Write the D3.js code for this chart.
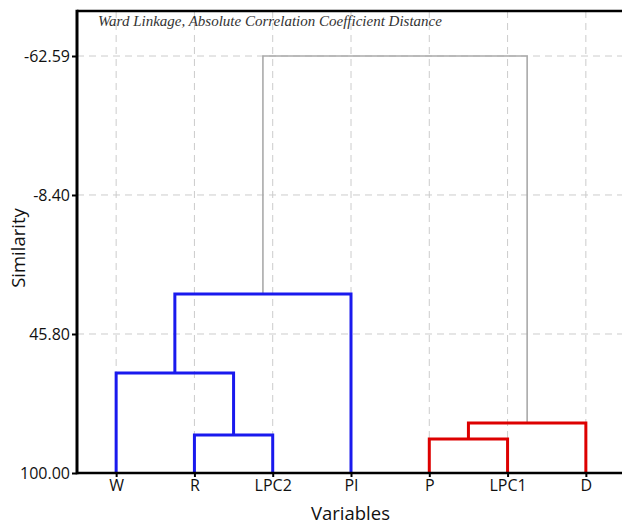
<!DOCTYPE html>
<html>
<head>
<meta charset="utf-8">
<script src="https://cdn.jsdelivr.net/npm/d3@7"></script>
<style>
  html, body { margin: 0; padding: 0; background: #fff; }
  svg { display: block; }
</style>
</head>
<body>
<svg id="chart" width="622" height="525"></svg>
<script>
// Leaves of the dendrogram, in display order
const leaves = ["W", "R", "LPC2", "PI", "P", "LPC1", "D"];

// Linkage steps: leaf indices 0..6, new clusters numbered 7, 8, ...
const mergeLeft   = [4, 1, 7, 0, 10, 11];
const mergeRight  = [5, 2, 6, 8, 3, 9];
const mergeHeight = [86.74, 85.18, 80.50, 61.01, 30.21, -62.59];
const mergeColor  = ["#dd0000", "#1a1aee", "#dd0000", "#1a1aee", "#1a1aee", "#aaaaaa"];

// Similarity axis ticks
const yTicks = [-62.59, -8.40, 45.80, 100.00];

const title = "Ward Linkage, Absolute Correlation Coefficient Distance";

const svg = d3.select("#chart");
const plotLeft = 77, plotTop = 11, plotBottom = 473, plotRight = 625;

const x = d3.scalePoint().domain(leaves).range([plotLeft, plotRight]).padding(0.5);
const y = d3.scaleLinear().domain([100, -62.59]).range([plotBottom, 56]);

// Grid
const grid = svg.append("g").attr("stroke", "#cccccc").attr("stroke-width", 1)
  .attr("stroke-dasharray", "7,5").attr("fill", "none");
leaves.forEach(l => {
  grid.append("line").attr("x1", x(l)).attr("x2", x(l)).attr("y1", plotTop).attr("y2", plotBottom);
});
yTicks.slice(0, 3).forEach(v => {
  grid.append("line").attr("x1", plotLeft).attr("x2", plotRight).attr("y1", y(v)).attr("y2", y(v));
});

// Title
svg.append("text")
  .attr("x", 98).attr("y", 26)
  .attr("font-family", "'Liberation Serif', 'DejaVu Serif', serif")
  .attr("font-style", "italic").attr("font-size", 15).attr("fill", "#333")
  .text(title);

// Dendrogram links
const nodeX = leaves.map(l => x(l));
const nodeH = leaves.map(() => 100);
const links = svg.append("g").attr("fill", "none");
mergeHeight.forEach((h, i) => {
  const a = mergeLeft[i], b = mergeRight[i];
  const xa = nodeX[a], xb = nodeX[b];
  const p = d3.path();
  p.moveTo(xa, y(nodeH[a]));
  p.lineTo(xa, y(h));
  p.lineTo(xb, y(h));
  p.lineTo(xb, y(nodeH[b]));
  const isRoot = i === mergeHeight.length - 1;
  const path = links.append("path").attr("d", p.toString())
    .attr("stroke", mergeColor[i])
    .attr("stroke-width", isRoot ? 1.6 : 3)
    .attr("stroke-linejoin", "miter");
  if (isRoot) path.lower();   // root link sits beneath the coloured clusters
  nodeX.push((xa + xb) / 2);
  nodeH.push(h);
});

// Axes
const font = "'Open Sans', 'Noto Sans', sans-serif";
const fmt = v => v.toFixed(2);   // plain hyphen-minus for negatives
const yAxis = svg.append("g").attr("transform", `translate(${plotLeft},0)`)
  .call(d3.axisLeft(y).tickValues(yTicks).tickFormat(fmt).tickSize(5).tickPadding(2));
yAxis.select(".domain").remove();
yAxis.selectAll(".tick line").attr("stroke", "#000").attr("stroke-width", 2);
yAxis.selectAll(".tick text").attr("font-family", font).attr("font-size", 16).attr("fill", "#111");

const xAxis = svg.append("g").attr("transform", `translate(0,${plotBottom})`)
  .call(d3.axisBottom(x).tickSize(4).tickPadding(3));
xAxis.select(".domain").remove();
xAxis.selectAll(".tick line").attr("stroke", "#000").attr("stroke-width", 2);
xAxis.selectAll(".tick text").attr("font-family", font).attr("font-size", 16).attr("fill", "#111");

// Frame lines
svg.append("line").attr("x1", plotLeft).attr("x2", plotRight).attr("y1", plotBottom).attr("y2", plotBottom)
  .attr("stroke", "#000").attr("stroke-width", 2.5);
svg.append("line").attr("x1", plotLeft).attr("x2", plotRight).attr("y1", plotTop).attr("y2", plotTop)
  .attr("stroke", "#000").attr("stroke-width", 2.5);
svg.append("line").attr("x1", plotLeft).attr("x2", plotLeft).attr("y1", plotTop - 1.25).attr("y2", plotBottom + 1.25)
  .attr("stroke", "#000").attr("stroke-width", 3);

// Axis titles
svg.append("text").attr("x", (plotLeft + 622) / 2 + 1).attr("y", 520).attr("text-anchor", "middle")
  .attr("font-family", font).attr("font-size", 18.5).attr("fill", "#111").text("Variables");
svg.append("text").attr("transform", "translate(25,248) rotate(-90)").attr("text-anchor", "middle")
  .attr("font-family", font).attr("font-size", 18.5).attr("fill", "#111").text("Similarity");
</script>
</body>
</html>
